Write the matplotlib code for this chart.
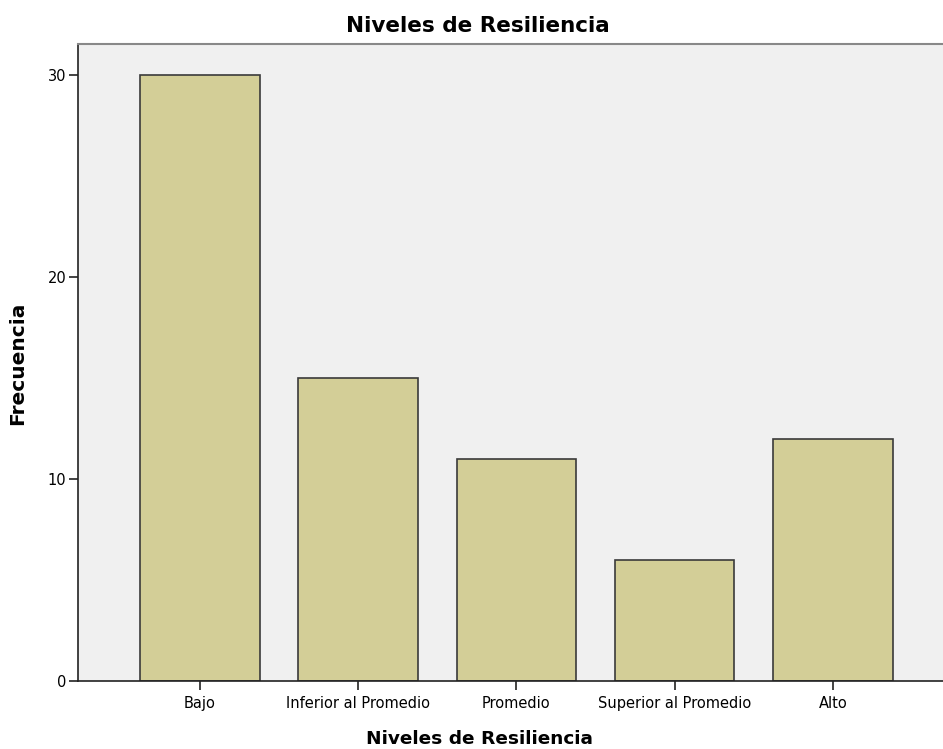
import matplotlib
matplotlib.use("Agg")
import matplotlib.pyplot as plt

categories = ["Bajo", "Inferior al Promedio", "Promedio", "Superior al Promedio", "Alto"]
frecuencia = [30, 15, 11, 6, 12]
yticks = [0, 10, 20, 30]

plt.rcParams['font.family'] = ['DejaVu Sans']

fig = plt.figure(figsize=(9.43, 7.49), dpi=100)
ax = fig.add_axes([78/943, 68/749, 1 - 78/943, (681-44)/749])
ax.set_facecolor('#F0F0F0')
x = list(range(len(categories)))
ax.bar(x, frecuencia, width=0.754, color='#D3CE97', edgecolor='#3a3a3a', linewidth=1.2, zorder=2)
ax.set_xlim(-0.77, 4.695)
ax.set_ylim(0, 31.56)
ax.set_xticks(x)
ax.set_xticklabels(categories, fontsize=10.5)
ax.set_yticks(yticks)
ax.set_yticklabels([str(v) for v in yticks], fontsize=10.5)
ax.tick_params(axis='x', length=6.5, width=1.2, color='#222222', pad=4)
ax.tick_params(axis='y', length=6.5, width=1.2, color='#222222', pad=2)
for s in ['left', 'bottom']:
    ax.spines[s].set_color('#222222')
    ax.spines[s].set_linewidth(1.2)
ax.spines['top'].set_color('#888888')
ax.spines['top'].set_linewidth(1.5)
ax.spines['right'].set_visible(False)

fig.text(478/943, 1 - 26/749, "Niveles de Resiliencia", ha='center', va='center', fontsize=15.5, fontweight='bold')
fig.text(479/943, 1 - 739/749, "Niveles de Resiliencia", ha='center', va='center', fontsize=13.3, fontweight='bold')
fig.text(18/943, 1 - 363/749, "Frecuencia", ha='center', va='center', rotation=90, fontsize=14.5, fontweight='bold')

fig.savefig("out.png", dpi=100)
